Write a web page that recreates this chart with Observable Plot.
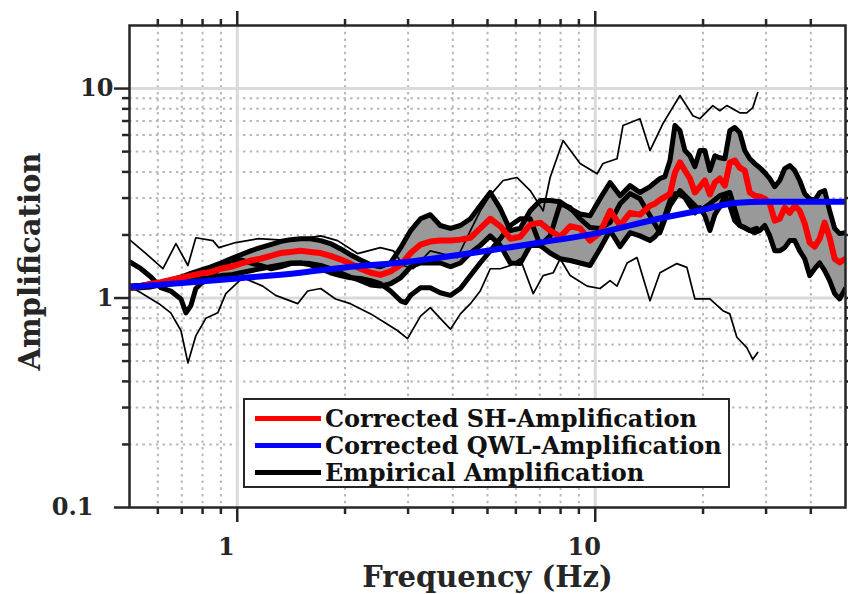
<!DOCTYPE html>
<html>
<head>
<meta charset="utf-8">
<script src="https://cdn.jsdelivr.net/npm/d3@7"></script>
<script src="https://cdn.jsdelivr.net/npm/@observablehq/plot@0.6"></script>
<style>
  html, body { margin: 0; padding: 0; background: #fff; }
  #wrap { position: relative; width: 848px; height: 594px; }
  #legend {
    position: absolute; left: 243px; top: 398px; width: 487px; height: 90px;
    box-sizing: border-box; border: 2.5px solid #262626; background: #fff;
    font: bold 24px "DejaVu Serif"; color: #111;
  }
  .row { position: absolute; left: 0; height: 27px; display: flex; align-items: center; white-space: nowrap; }
  .swatch { width: 66px; height: 5px; margin-left: 10px; margin-right: 4px; }
</style>
</head>
<body>
<div id="wrap"><div id="chart"></div><div id="legend"></div></div>
<script>
// ---------- data ----------
// SH (corrected) amplification: mean and band bounds
const shFreq = [0.5,0.538,0.574,0.612,0.652,0.696,0.742,0.791,0.844,0.899,0.959,1.023,1.09,1.16,1.24,1.32,1.41,1.5,1.6,1.71,1.82,1.94,2.07,2.21,2.36,2.51,2.68,2.86,3.05,3.25,3.46,3.69,3.94,4.2,4.48,4.77,5.09,5.43,5.79,6.17,6.58,7.02,7.48,7.98,8.51,9.07,9.67,10.31,11.0,11.73,12.51,13.33,
  14.22,14.68,15.16,15.65,16.17,16.69,17.24,17.8,18.38,18.98,19.6,20.24,20.9,21.58,22.28,23.01,23.76,24.53,25.33,26.16,27.02,27.9,28.81,29.75,30.72,31.71,32.75,33.82,34.93,36.07,37.24,38.46,39.71,41.01,42.35,43.73,45.15,46.63,48.15,50];
const shMean = [1.12,1.14,1.17,1.19,1.22,1.25,1.28,1.31,1.33,1.38,1.41,1.46,1.51,1.54,1.59,1.64,1.66,1.68,1.66,1.64,1.59,1.53,1.46,1.38,1.32,1.29,1.34,1.44,1.64,1.80,1.86,1.88,1.88,1.90,1.94,2.15,2.39,2.20,1.92,1.96,2.24,2.29,2.10,1.96,2.20,2.15,1.88,2.05,2.61,2.22,2.55,2.50,
  2.76,2.82,2.94,3.04,3.14,3.97,4.44,4.06,3.72,3.19,3.40,3.64,3.12,3.56,3.72,3.44,4.43,4.53,4.19,4.06,3.19,3.08,3.05,2.98,2.82,2.34,2.39,2.70,2.55,2.76,2.61,2.27,1.84,1.76,1.92,2.29,1.94,1.54,1.48,1.54];
const shUpper = [1.14,1.15,1.17,1.19,1.22,1.26,1.31,1.36,1.41,1.47,1.54,1.61,1.68,1.74,1.80,1.86,1.90,1.92,1.92,1.88,1.82,1.72,1.61,1.52,1.44,1.41,1.47,1.74,2.10,2.39,2.50,2.22,2.15,2.22,2.39,2.76,3.19,2.67,2.10,2.15,2.61,2.92,2.92,2.88,2.67,2.52,2.47,2.98,3.56,3.08,3.44,3.19,
  3.40,3.56,3.72,3.80,4.53,6.66,6.30,5.06,4.78,4.24,5.06,5.06,4.06,4.78,4.67,4.62,6.30,6.52,6.17,5.06,4.62,4.38,4.19,3.97,3.72,3.40,3.64,4.15,4.29,4.06,3.64,3.15,2.98,2.92,3.19,3.26,2.61,2.15,2.03,2.05];
const shLower = [1.11,1.12,1.13,1.155,1.17,1.19,1.21,1.24,1.25,1.28,1.29,1.32,1.35,1.38,1.41,1.44,1.47,1.47,1.46,1.43,1.38,1.32,1.26,1.21,1.155,1.14,1.17,1.25,1.41,1.47,1.47,1.47,1.41,1.47,1.64,1.78,1.98,1.78,1.47,1.46,1.78,1.78,1.64,1.54,1.51,1.47,1.43,1.72,2.10,1.76,2.05,1.98,
  1.88,1.96,2.10,2.47,2.92,3.15,3.12,3.01,2.76,2.55,2.70,2.47,2.10,2.50,2.73,3.08,2.76,2.34,2.22,2.17,2.10,2.05,2.10,2.22,1.98,1.68,1.68,1.74,1.88,1.88,1.68,1.54,1.28,1.38,1.47,1.35,1.21,1.05,0.99,1.11];

// QWL (corrected) amplification
const qwlFreq = [0.5,0.7,1,1.5,2,3,4,5,7,10,15,20,22.3,25,30,50];
const qwlAmp  = [1.13,1.18,1.24,1.32,1.40,1.49,1.59,1.68,1.84,2.03,2.39,2.64,2.76,2.85,2.88,2.88];

// Empirical amplification (mean)
const empFreq = [0.5,0.538,0.574,0.612,0.652,0.696,0.719,0.742,0.766,0.791,0.844,0.899,0.959,1.023,1.09,1.16,1.24,1.32,1.41,1.5,1.6,1.71,1.82,1.94,2.07,2.21,2.36,2.51,2.68,2.86,2.95,3.05,3.25,3.46,3.69,3.94,4.2,4.48,4.77,5.09,5.43,5.79,6.17,6.58,7.02,7.48,7.98,8.51,9.07,9.67,10.31,11.0,11.73,12.51,13.33,14.22,15.16,16.17,17.24,18.38,19.6,20.9,22.28,23.76,25.33,27.02,28.25];
const empMean = [1.49,1.38,1.26,1.12,1.08,0.99,0.85,0.92,1.11,1.17,1.26,1.41,1.51,1.52,1.47,1.43,1.38,1.41,1.46,1.47,1.44,1.38,1.32,1.28,1.25,1.24,1.21,1.17,1.08,0.97,0.95,1.03,1.12,1.12,1.06,1.03,1.11,1.28,1.47,1.68,1.92,2.22,2.39,2.39,1.78,1.98,2.82,2.70,2.39,2.17,2.15,2.29,2.82,3.15,2.98,2.47,2.05,2.76,3.26,2.92,2.61,2.82,3.08,3.19,2.22,2.10,2.15];

// Empirical upper (thin)
const empUpFreq = [0.5,0.556,0.62,0.674,0.728,0.766,0.855,0.888,0.99,1.148,1.41,1.71,1.906,2.168,2.51,2.73,2.91,3.10,3.46,4.12,4.48,4.77,5.09,5.53,6.05,6.58,7.15,7.48,8.13,9.07,10.12,10.51,11.5,11.95,13.33,14.22,15.45,17.24,18.74,19.6,21.3,22.28,23.3,25.33,26.5,27.54,28.43];
const empUpAmp  = [1.90,1.63,1.38,1.82,1.43,1.94,1.88,1.74,1.84,1.92,1.88,1.98,1.88,1.63,1.74,1.68,1.43,1.38,1.68,1.56,2.10,2.60,3.10,3.64,3.76,3.26,2.61,3.76,5.65,4.39,3.92,4.39,4.62,6.66,7.18,5.06,6.80,9.26,7.42,7.18,8.29,7.84,8.29,7.66,7.66,8.11,9.57];

// Empirical lower (thin)
const empLoFreq = [0.5,0.538,0.604,0.652,0.696,0.728,0.766,0.817,0.882,0.929,1.036,1.178,1.28,1.475,1.572,1.71,1.882,2.07,2.36,2.594,2.80,2.99,3.25,3.46,3.69,3.94,4.2,4.48,4.77,5.09,5.43,5.79,6.17,6.71,7.15,7.63,7.98,8.51,9.49,10.31,11.0,11.5,12.27,13.08,14.22,15.16,16.9,18.03,18.98,20.9,22.72,23.76,24.86,26.5,27.54,28.43];
const empLoAmp  = [1.14,1.06,0.94,0.85,0.70,0.49,0.66,0.80,0.85,1.05,1.25,1.14,1.03,0.94,1.08,1.11,0.99,0.94,0.84,0.76,0.70,0.64,0.82,0.90,0.80,0.71,0.84,0.94,1.08,1.38,1.38,1.43,1.54,1.05,1.28,1.32,1.54,1.28,1.14,1.11,1.21,1.14,1.47,1.56,0.97,1.32,1.46,1.40,0.99,0.99,0.87,0.84,0.65,0.58,0.51,0.55];

// ticks
const xMajor = [1, 10];
const xMinor = [0.6,0.7,0.8,0.9,2,3,4,5,6,7,8,9,20,30,40];
const yMajor = [1, 10];
const yMinor = [0.2,0.3,0.4,0.5,0.6,0.7,0.8,0.9,2,3,4,5,6,7,8,9];

const legendItems = [
  {label: "Corrected SH-Amplification", color: "#ff0000"},
  {label: "Corrected QWL-Amplification", color: "#0000ff"},
  {label: "Empirical Amplification", color: "#000000"}
];

// ---------- tables ----------
const sh = shFreq.map((f, i) => ({f, mean: shMean[i], hi: shUpper[i], lo: shLower[i]}));
const qwl = qwlFreq.map((f, i) => ({f, a: qwlAmp[i]}));
const emp = empFreq.map((f, i) => ({f, a: empMean[i]}));
const empUp = empUpFreq.map((f, i) => ({f, a: empUpAmp[i]}));
const empLo = empLoFreq.map((f, i) => ({f, a: empLoAmp[i]}));

const axisColor = "#262626";
const noText = () => "";

const chart = Plot.plot({
  width: 848,
  height: 594,
  marginLeft: 129,
  marginRight: 3,
  marginTop: 25,
  marginBottom: 87,
  x: {type: "log", domain: [0.5, 50], label: null},
  y: {type: "log", domain: [0.1, 20], label: null},
  style: {fontFamily: "DejaVu Serif", fontWeight: "bold", fontSize: "24px", color: axisColor, background: "white"},
  marks: [
    Plot.gridX(xMinor, {stroke: "#b8b8b8", strokeOpacity: 1, strokeWidth: 2, strokeDasharray: "2.5,4.2"}),
    Plot.gridY(yMinor, {stroke: "#b8b8b8", strokeOpacity: 1, strokeWidth: 2, strokeDasharray: "2.5,4.2"}),
    Plot.gridX(xMajor, {stroke: "#dadada", strokeOpacity: 1, strokeWidth: 3}),
    Plot.gridY(yMajor, {stroke: "#dadada", strokeOpacity: 1, strokeWidth: 3}),
    Plot.areaY(sh, {x: "f", y1: "lo", y2: "hi", fill: "#999999", clip: true}),
    Plot.line(empUp, {x: "f", y: "a", stroke: "#000", strokeWidth: 1.7, clip: true}),
    Plot.line(empLo, {x: "f", y: "a", stroke: "#000", strokeWidth: 1.7, clip: true}),
    Plot.line(sh, {x: "f", y: "hi", stroke: "#000", strokeWidth: 5, clip: true}),
    Plot.line(sh, {x: "f", y: "lo", stroke: "#000", strokeWidth: 5, clip: true}),
    Plot.line(emp, {x: "f", y: "a", stroke: "#000", strokeWidth: 5, clip: true}),
    Plot.line(sh, {x: "f", y: "mean", stroke: "#ff0000", strokeWidth: 6, clip: true}),
    Plot.line(qwl, {x: "f", y: "a", stroke: "#0000ff", strokeWidth: 6, curve: "monotone-x", clip: true}),
    Plot.frame({stroke: axisColor, strokeWidth: 2.5}),
    // bottom ticks + labels
    Plot.axisX(xMajor, {anchor: "bottom", tickSize: 15, strokeWidth: 2.5, stroke: axisColor, tickFormat: noText, label: null}),
    Plot.axisX(xMinor, {anchor: "bottom", tickSize: 7, strokeWidth: 2.5, stroke: axisColor, tickFormat: noText, label: null}),
    Plot.axisX(xMajor, {anchor: "bottom", tickSize: 0, tickPadding: 30, dx: -11, tickFormat: d => String(d), label: null}),
    // top ticks
    Plot.axisX(xMajor, {anchor: "top", tickSize: 15, strokeWidth: 2.5, stroke: axisColor, tickFormat: noText, label: null}),
    Plot.axisX(xMinor, {anchor: "top", tickSize: 7, strokeWidth: 2.5, stroke: axisColor, tickFormat: noText, label: null}),
    // left ticks + labels
    Plot.axisY(yMajor, {anchor: "left", tickSize: 15, tickPadding: 1, strokeWidth: 2.5, stroke: axisColor, tickFormat: d => String(d), label: null}),
    Plot.axisY([0.1], {anchor: "left", tickSize: 15, tickPadding: 21, strokeWidth: 2.5, stroke: axisColor, tickFormat: d => String(d), label: null}),
    Plot.axisY(yMinor, {anchor: "left", tickSize: 7, strokeWidth: 2.5, stroke: axisColor, tickFormat: noText, label: null}),
    // right ticks
    Plot.axisY(yMajor, {anchor: "right", tickSize: 15, strokeWidth: 2.5, stroke: axisColor, tickFormat: noText, label: null}),
    Plot.axisY(yMinor, {anchor: "right", tickSize: 7, strokeWidth: 2.5, stroke: axisColor, tickFormat: noText, label: null}),
    // axis titles
    Plot.text(["Frequency (Hz)"], {frameAnchor: "bottom", textAnchor: "middle", dy: 70, lineAnchor: "middle", fontSize: 29, fill: axisColor}),
    Plot.text(["Amplification"], {frameAnchor: "left", textAnchor: "middle", dx: -99, dy: -5, rotate: -90, lineAnchor: "middle", fontSize: 29, fill: axisColor})
  ]
});
document.getElementById("chart").appendChild(chart);

// legend
const legend = document.getElementById("legend");
legendItems.forEach((d, i) => {
  const row = document.createElement("div");
  row.className = "row";
  row.style.top = (4.5 + i * 27) + "px";
  const sw = document.createElement("div");
  sw.className = "swatch";
  sw.style.background = d.color;
  const tx = document.createElement("span");
  tx.textContent = d.label;
  row.appendChild(sw);
  row.appendChild(tx);
  legend.appendChild(row);
});
</script>
</body>
</html>
